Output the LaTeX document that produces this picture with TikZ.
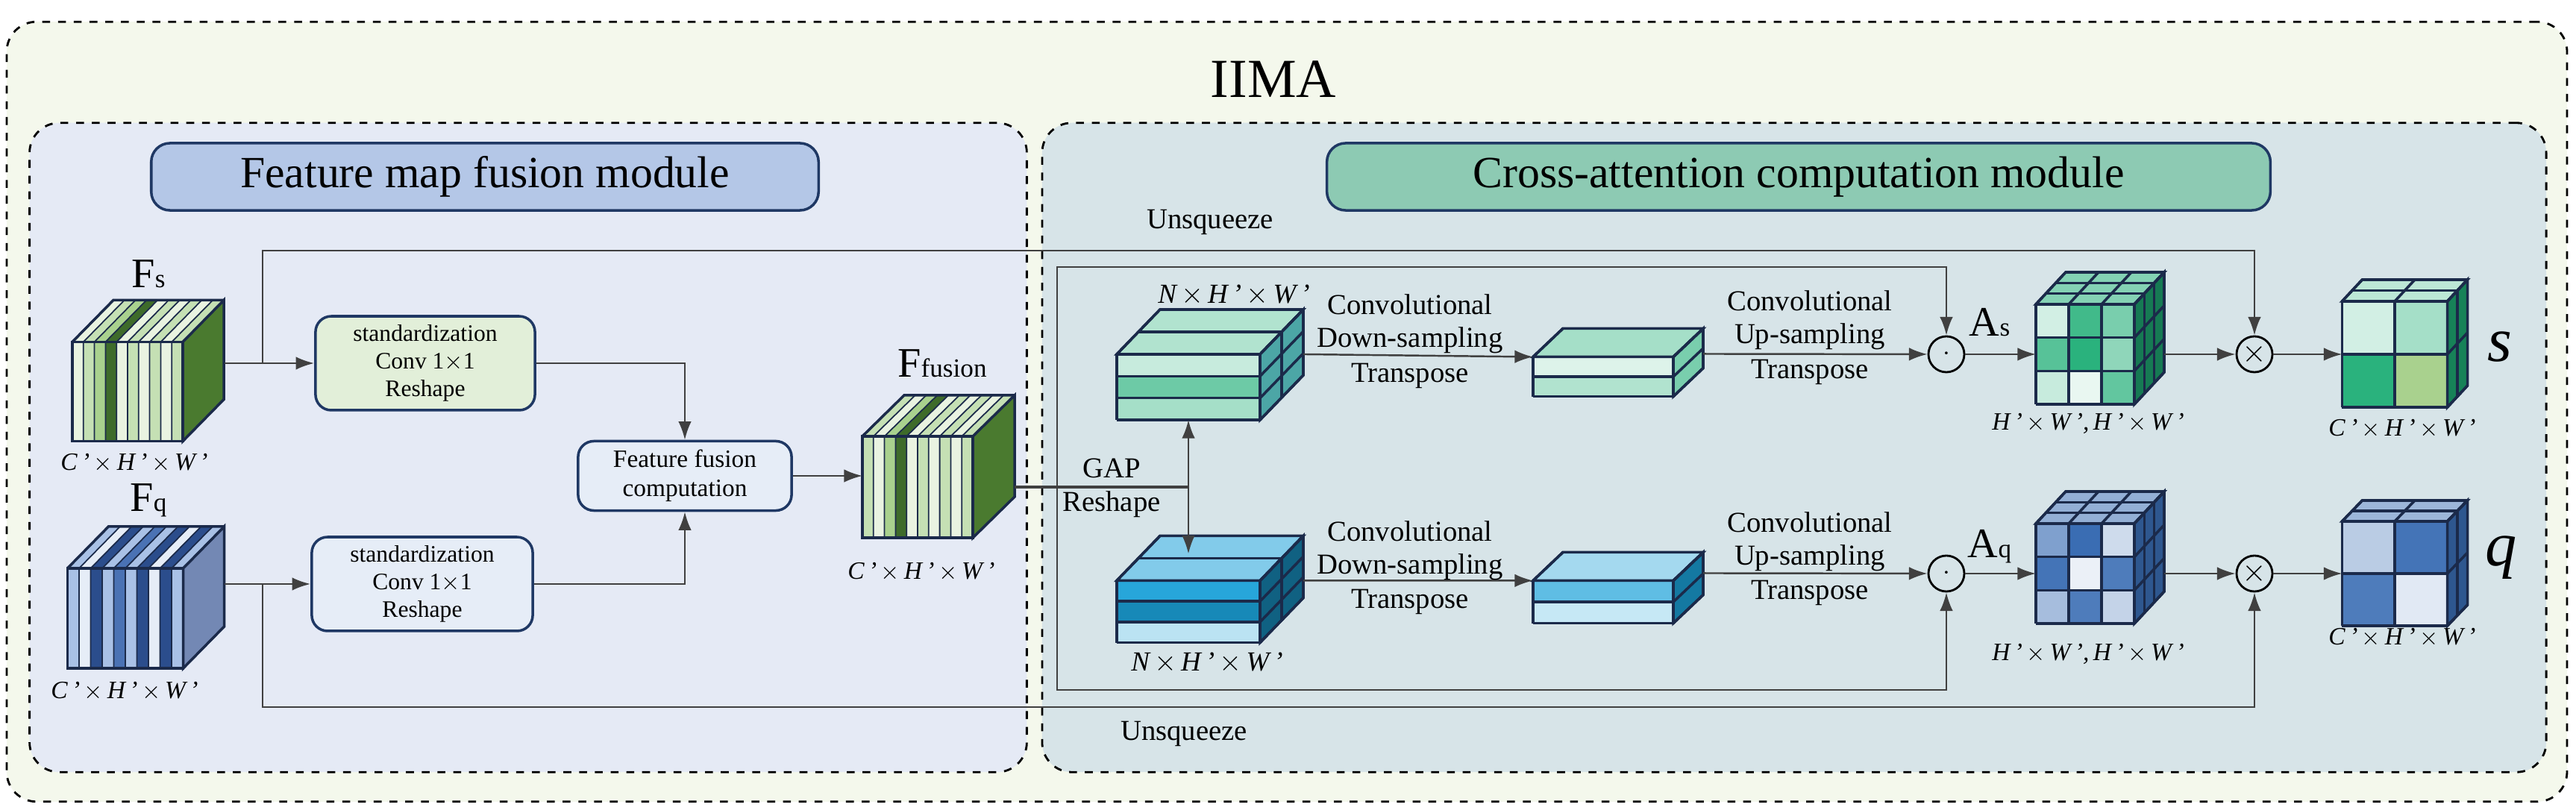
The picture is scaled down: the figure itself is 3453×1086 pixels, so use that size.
\documentclass[tikz,border=0pt]{standalone}
\usepackage{fontspec}
\setmainfont{Liberation Serif}
\usepackage{tikz}
\usetikzlibrary{arrows.meta,calc,positioning}

\definecolor{outerbg}{HTML}{F4F8EC}
\definecolor{leftbg}{HTML}{E5EAF5}
\definecolor{rightbg}{HTML}{D7E4E8}
\definecolor{fmftitle}{HTML}{B4C7E7}
\definecolor{cactitle}{HTML}{8DCAB3}
\definecolor{boxedge}{HTML}{1F3864}
\definecolor{cubeedge}{HTML}{1B2A4A}
\definecolor{gw}{HTML}{E9F3E1}
\definecolor{gl}{HTML}{C5E0B4}
\definecolor{gm}{HTML}{A9D18E}
\definecolor{gd}{HTML}{3E6B2A}
\definecolor{gside}{HTML}{4A7A2F}
\definecolor{bw}{HTML}{E6EDF7}
\definecolor{bl}{HTML}{A9C1E6}
\definecolor{bm}{HTML}{4A72B4}
\definecolor{bd}{HTML}{2B4D8C}
\definecolor{bside}{HTML}{7388B4}
\definecolor{mint}{HTML}{1FAE76}
\definecolor{sky}{HTML}{1BA1D8}
\definecolor{navyb}{HTML}{3A6DB3}

\tikzset{
  line/.style={draw=black!75,line width=0.7pt},
  arr/.style={line,-{Latex[length=7pt,width=5pt]}},
  cubeline/.style={draw=cubeedge,line width=1pt},
  face/.style={inner sep=0pt,outer sep=0pt},
  opbox/.style={draw=boxedge,line width=1pt,rounded corners=6pt,align=center,font=\fontsize{9}{10.5}\selectfont},
  dim/.style={font=\fontsize{9.5}{11}\selectfont\itshape},
  lab/.style={font=\fontsize{11}{12.5}\selectfont,align=center},
  op/.style={circle,draw,line width=0.8pt,inner sep=0pt,minimum size=0.48cm},
  module/.style={draw,dashed,line width=0.8pt,rounded corners=0.4cm}
}

% name, cols, rows, depth divisions, dx, dy, front colours, top, side
\newcommand{\gridcube}[9]{%
  \foreach \c [count=\k from 0] in {#7}{%
    \pgfmathtruncatemacro\cx{mod(\k,#2)}%
    \pgfmathtruncatemacro\cy{div(\k,#2)}%
    \coordinate (ga) at ($(#1.north west)!\cx/#2!(#1.north east)$);
    \coordinate (gb) at ($(#1.north west)!\cx/#2+1/#2!(#1.north east)$);
    \coordinate (gc) at ($(#1.north west)!\cy/#3!(#1.south west)$);
    \coordinate (gd) at ($(#1.north west)!\cy/#3+1/#3!(#1.south west)$);
    \fill[\c] (ga |- gc) rectangle (gb |- gd);
  }
  \filldraw[cubeline,fill=#8] (#1.north west) -- ++(#5,-#6) -- ($(#1.north east)+(#5,-#6)$) -- (#1.north east) -- cycle;
  \filldraw[cubeline,fill=#9] (#1.north east) -- ++(#5,-#6) -- ($(#1.south east)+(#5,-#6)$) -- (#1.south east) -- cycle;
  \foreach \i in {0,...,#2}{
    \draw[cubeline] ($(#1.north west)!\i/#2!(#1.north east)$) -- ($(#1.south west)!\i/#2!(#1.south east)$);
    \draw[cubeline] ($(#1.north west)!\i/#2!(#1.north east)$) -- ++(#5,-#6);
  }
  \foreach \j in {0,...,#3}{
    \draw[cubeline] ($(#1.north west)!\j/#3!(#1.south west)$) -- ($(#1.north east)!\j/#3!(#1.south east)$);
    \draw[cubeline] ($(#1.north east)!\j/#3!(#1.south east)$) -- ++(#5,-#6);
  }
  \foreach \d in {0,...,#4}{
    \draw[cubeline] ($(#1.north west)+{\d/#4}*(#5,-#6)$) -- ($(#1.north east)+{\d/#4}*(#5,-#6)$);
    \draw[cubeline] ($(#1.north east)+{\d/#4}*(#5,-#6)$) -- ($(#1.south east)+{\d/#4}*(#5,-#6)$);
  }
}

% name, dx, dy, stripe colours, number of stripes, side
\newcommand{\stripecube}[6]{%
  \foreach \c [count=\k from 0] in {#4}{%
    \coordinate (ga) at ($(#1.north west)!\k/#5!(#1.north east)$);
    \coordinate (gb) at ($(#1.north west)!\k/#5+1/#5!(#1.north east)$);
    \fill[\c] (ga) rectangle (gb |- #1.south);
    \fill[\c] (ga) -- ++(#2,-#3) -- ($(gb)+(#2,-#3)$) -- (gb) -- cycle;
    \draw[cubeedge,line width=0.5pt] (ga) -- (ga |- #1.south) (ga) -- ++(#2,-#3);
  }
  \filldraw[cubeline,fill=#6] (#1.north east) -- ++(#2,-#3) -- ($(#1.south east)+(#2,-#3)$) -- (#1.south east) -- cycle;
  \draw[cubeline] (#1.north west) -- ++(#2,-#3) -- ($(#1.north east)+(#2,-#3)$);
  \draw[cubeline] (#1.north west) rectangle (#1.south east);
}

\begin{document}
\begin{tikzpicture}[x=0.01cm,y=-0.01cm]
  \useasboundingbox (0,0) rectangle (3453,1086);

  % containers
  \node[module,fill=outerbg,minimum width=34.30cm,minimum height=10.45cm] (iima) at (1725,552) {};
  \node[font=\fontsize{21}{24}\selectfont] (iimatitle) at (1707,106) {IIMA};
  \node[module,fill=leftbg,minimum width=13.36cm,minimum height=8.70cm] (fmf) at (708,600) {};
  \node[module,fill=rightbg,minimum width=20.15cm,minimum height=8.70cm] (cac) at (2405,600) {};
  \node[draw=boxedge,line width=1pt,fill=fmftitle,rounded corners=0.25cm,minimum width=8.94cm,minimum height=0.90cm,font=\fontsize{17}{20}\selectfont] (fmftitle) at (650,237) {Feature map fusion module};
  \node[draw=boxedge,line width=1pt,fill=cactitle,rounded corners=0.25cm,minimum width=12.64cm,minimum height=0.90cm,font=\fontsize{17}{20}\selectfont] (cactitle) at (2411,237) {Cross-attention computation module};

  % feature map fusion
  \node[face,minimum width=1.48cm,minimum height=1.33cm] (fs) at (171,525) {};
  \stripecube{fs}{55}{56}{gw,gl,gm,gd,gw,gl,gw,gl,gw,gl}{10}{gside}
  \node[font=\fontsize{16}{18}\selectfont] (fslab) at (199,367) {F{\fontsize{10}{10}\selectfont s}};
  \node[dim] (fsdim) at (180,621) {C\,'\,$\times$\,H\,'\,$\times$\,W\,'};

  \node[face,minimum width=1.55cm,minimum height=1.34cm] (fq) at (168,829) {};
  \stripecube{fq}{55}{56}{bl,bw,bd,bl,bm,bl,bd,bw,bd,bl}{10}{bside}
  \node[font=\fontsize{16}{18}\selectfont] (fqlab) at (199,671) {F{\fontsize{10}{10}\selectfont q}};
  \node[dim] (fqdim) at (167,927) {C\,'\,$\times$\,H\,'\,$\times$\,W\,'};

  \node[opbox,fill=gl!50,minimum width=2.94cm,minimum height=1.24cm] (std1) at (570,487) {standardization\\Conv 1$\times$1\\Reshape};
  \node[opbox,fill=bw,minimum width=2.96cm,minimum height=1.25cm] (std2) at (566,783) {standardization\\Conv 1$\times$1\\Reshape};
  \node[opbox,fill=bw,minimum width=2.86cm,minimum height=0.93cm,font=\fontsize{9.5}{11}\selectfont] (fusion) at (918,638) {Feature fusion\\computation};

  \node[face,minimum width=1.48cm,minimum height=1.36cm] (ffu) at (1230,653) {};
  \stripecube{ffu}{56}{55}{gl,gw,gm,gd,gw,gl,gw,gl,gw,gl}{10}{gside}
  \node[font=\fontsize{16}{18}\selectfont] (fflab) at (1263,487) {F{\fontsize{10}{10}\selectfont fusion}};
  \node[dim] (ffdim) at (1235,767) {C\,'\,$\times$\,H\,'\,$\times$\,W\,'};

  % cross-attention
  \node[face,minimum width=1.92cm,minimum height=0.88cm] (nh1) at (1593,519) {};
  \gridcube{nh1}{1}{3}{2}{58}{60}{mint!25,mint!65,mint!40}{mint!35}{teal!70}
  \node[dim,font=\fontsize{10.5}{12}\selectfont\itshape] (nh1dim) at (1654,396) {N\,$\times$\,H\,'\,$\times$\,W\,'};
  \node[face,minimum width=1.92cm,minimum height=0.83cm] (nh2) at (1593,820) {};
  \gridcube{nh2}{1}{3}{2}{58}{60}{sky!95,sky!85!black,sky!30}{sky!55}{sky!60!black}
  \node[dim,font=\fontsize{10.5}{12}\selectfont\itshape] (nh2dim) at (1618,889) {N\,$\times$\,H\,'\,$\times$\,W\,'};

  \node[face,minimum width=1.88cm,minimum height=0.53cm] (ds1) at (2149,505) {};
  \gridcube{ds1}{1}{2}{1}{40}{38}{mint!15,mint!35}{mint!40}{mint!60}
  \node[face,minimum width=1.88cm,minimum height=0.57cm] (ds2) at (2149,807) {};
  \gridcube{ds2}{1}{2}{1}{40}{38}{sky!70,sky!25}{sky!40}{sky!75!black}

  \node[op] (ot1) at (2609,475) {$\cdot$};
  \node[op] (ot2) at (2609,769) {$\cdot$};
  \node[font=\fontsize{16}{18}\selectfont] (aslab) at (2667,432) {A{\fontsize{10}{10}\selectfont s}};
  \node[font=\fontsize{16}{18}\selectfont] (aqlab) at (2667,733) {A{\fontsize{10}{10}\selectfont q}};

  \node[face,minimum width=1.32cm,minimum height=1.34cm] (att1) at (2795,475) {};
  \gridcube{att1}{3}{3}{3}{40}{43}{mint!20,mint!85,mint!60,mint!75,mint!95,mint!50,mint!25,mint!10,mint!70}{mint!55}{mint!70!black}
  \node[dim] (att1dim) at (2799,568) {H\,'\,$\times$\,W\,',\,H\,'\,$\times$\,W\,'};
  \node[face,minimum width=1.32cm,minimum height=1.34cm] (att2) at (2795,769) {};
  \gridcube{att2}{3}{3}{3}{40}{43}{navyb!65,navyb,navyb!25,navyb!95,navyb!10,navyb!90,navyb!45,navyb!90,navyb!30}{navyb!55}{navyb!80!black}
  \node[dim] (att2dim) at (2799,877) {H\,'\,$\times$\,W\,',\,H\,'\,$\times$\,W\,'};

  \node[op,font=\fontsize{12}{12}\selectfont] (mul1) at (3022,475) {$\times$};
  \node[op,font=\fontsize{12}{12}\selectfont] (mul2) at (3022,769) {$\times$};

  \node[face,minimum width=1.41cm,minimum height=1.42cm] (out1) at (3210,475) {};
  \gridcube{out1}{2}{2}{2}{27}{29}{mint!20,mint!40,mint!95,gm}{mint!30}{mint!75!black}
  \node[dim] (out1dim) at (3220,575) {C\,'\,$\times$\,H\,'\,$\times$\,W\,'};
  \node[font=\fontsize{24}{26}\selectfont\itshape] (slab) at (3351,465) {s};
  \node[face,minimum width=1.41cm,minimum height=1.40cm] (out2) at (3210,769) {};
  \gridcube{out2}{2}{2}{2}{27}{28}{navyb!35,navyb!95,navyb!90,navyb!15}{navyb!50}{navyb!80!black}
  \node[dim] (out2dim) at (3220,855) {C\,'\,$\times$\,H\,'\,$\times$\,W\,'};
  \node[font=\fontsize{24}{26}\selectfont\itshape] (qlab) at (3353,748) {q};

  % connectors
  \coordinate (topline) at (0,336);
  \coordinate (botline) at (0,948);
  \coordinate (fsout) at (301,487);
  \coordinate (fsbr) at (352,487);
  \coordinate (fqout) at (301,783);
  \coordinate (fqbr) at (352,783);
  \coordinate (gapj) at (1593,653);
  \coordinate (resid) at (1417,653);
  \coordinate (innertop) at (0,358);
  \coordinate (innerbot) at (0,925);

  \draw[arr] (fsout) -- (std1);
  \draw[arr] (fqout) -- (std2);
  \draw[arr] (fsbr) |- (mul1 |- topline) -- (mul1);
  \draw[arr] (fqbr) |- (mul2 |- botline) -- (mul2);
  \draw[arr] (std1) -| (fusion);
  \draw[arr] (std2) -| (fusion);
  \draw[arr] (fusion) -- (ffu.west |- fusion);
  \draw[line,line width=1.4pt] ($(ffu.east)+(56,0)$) -- (gapj);
  \draw[arr] (gapj) -- (nh1.south);
  \draw[arr] (gapj) -- ($(nh2.north)+(0,-36)$);
  \draw[arr] (resid) |- (ot1 |- innertop) -- (ot1);
  \draw[arr] (resid) |- (ot2 |- innerbot) -- (ot2);
  \draw[arr] ($(nh1.north east)+(58,0)$) -- (ds1.north west);
  \draw[arr] ($(nh2.north east)+(58,0)$) -- (ds2.north west);
  \draw[arr] ($(ds1.north east)+(40,-4)$) -- (ot1);
  \draw[arr] ($(ds2.north east)+(40,-10)$) -- (ot2);
  \draw[arr] (ot1) -- (att1);
  \draw[arr] (ot2) -- (att2);
  \draw[arr] ($(att1.east)+(40,0)$) -- (mul1);
  \draw[arr] ($(att2.east)+(40,0)$) -- (mul2);
  \draw[arr] (mul1) -- (out1);
  \draw[arr] (mul2) -- (out2);

  % labels on connectors
  \node[lab] (unsq1) at (1622,298) {Unsqueeze};
  \node[lab] (unsq2) at (1587,984) {Unsqueeze};
  \node[lab] (gap) at (1490,628) {GAP};
  \node[lab] (resh) at (1490,676) {Reshape};
  \node[lab] (down1) at (1890,434) {Convolutional\\Down-sampling};
  \node[lab] (tr1) at (1890,504) {Transpose};
  \node[lab] (up1) at (2426,429) {Convolutional\\Up-sampling};
  \node[lab] (tr2) at (2426,499) {Transpose};
  \node[lab] (down2) at (1890,738) {Convolutional\\Down-sampling};
  \node[lab] (tr3) at (1890,807) {Transpose};
  \node[lab] (up2) at (2426,726) {Convolutional\\Up-sampling};
  \node[lab] (tr4) at (2426,795) {Transpose};
\end{tikzpicture}
\end{document}
